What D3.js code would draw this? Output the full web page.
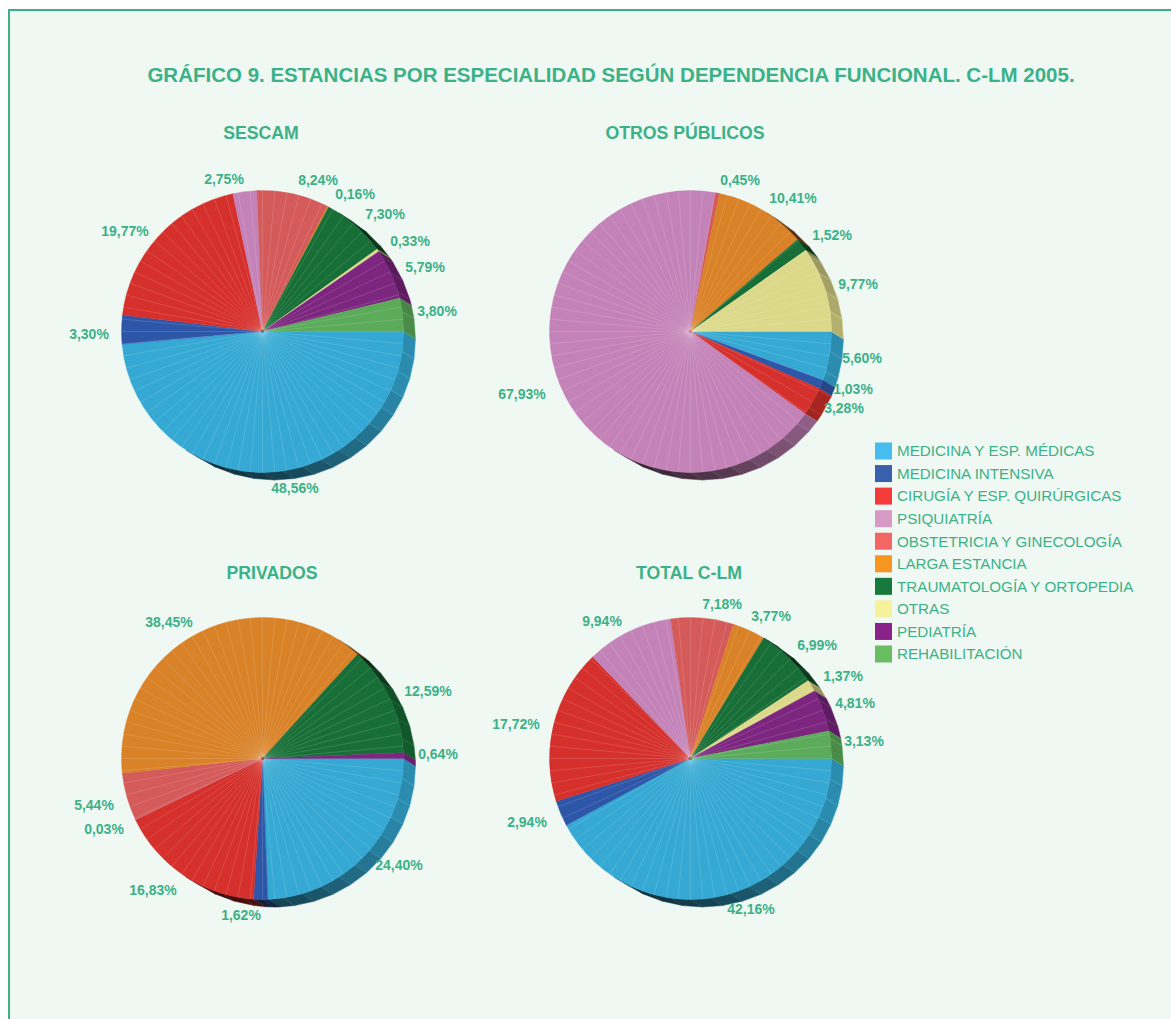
<!DOCTYPE html>
<html lang="es">
<head>
<meta charset="utf-8">
<title>Estancias por especialidad</title>
<script src="https://cdn.jsdelivr.net/npm/d3@7"></script>
<style>
  html, body { margin: 0; padding: 0; background: #fff; overflow: hidden; }
  svg { display: block; font-family: "Liberation Sans", Arial, sans-serif; }
</style>
</head>
<body>
<svg id="chart" width="1171" height="1019"></svg>
<script>
// Specialities, in drawing order
const specialities = [
  "MEDICINA Y ESP. MÉDICAS", "MEDICINA INTENSIVA", "CIRUGÍA Y ESP. QUIRÚRGICAS",
  "PSIQUIATRÍA", "OBSTETRICIA Y GINECOLOGÍA", "LARGA ESTANCIA",
  "TRAUMATOLOGÍA Y ORTOPEDIA", "OTRAS", "PEDIATRÍA", "REHABILITACIÓN"
];

// Share of stays per speciality (%), one list per functional dependency
const sescam       = [48.56, 3.30, 19.77, 2.75, 8.24, 0.16, 7.30, 0.33, 5.79, 3.80];
const otrosPublicos = [5.60, 1.03, 3.28, 67.93, 0.45, 10.41, 1.52, 9.77, 0, 0];
const privados     = [24.40, 1.62, 16.83, 0.03, 5.44, 38.45, 12.59, 0, 0.64, 0];
const totalClm     = [42.16, 2.94, 17.72, 9.94, 7.18, 3.77, 6.99, 1.37, 4.81, 3.13];

const legendColors = ["#45bdef", "#3a60ad", "#f43a3a", "#d69ac4", "#f46565", "#f6951f", "#167a3d", "#f6f29c", "#8a2388", "#6abd63"];
const sliceColors  = ["#35a9d3", "#2e56a8", "#d5302b", "#c483b8", "#d55a5a", "#d98227", "#176f37", "#dcd98a", "#7d2680", "#5bab5b"];

// Label placement relative to each pie centre, slice by slice
const sescamLabels = [[33,157],[-173,3],[-137,-100],[-38,-152],[56,-151],[93,-137],[123,-117],[148,-90],[163,-64],[175,-20]];
const otrosLabels  = [[172,27],[163,58],[154,77],[-168,63],[50,-151],[103,-133],[142,-96],[168,-47],null,null];
const privadosLabels = [[137,107],[-21,157],[-109,132],[-158,71],[-168,47],[-93,-136],[166,-67],null,[176,-4],null];
const totalLabels  = [[61,151],[-163,64],[-174,-34],[-88,-137],[32,-154],[81,-142],[127,-113],[153,-82],[165,-55],[174,-17]];

const panels = [
  { title: "SESCAM",         values: sescam,        labels: sescamLabels,   cx: 262, cy: 331, titleX: 261, titleY: 139 },
  { title: "OTROS PÚBLICOS", values: otrosPublicos, labels: otrosLabels,    cx: 690, cy: 331, titleX: 685, titleY: 139 },
  { title: "PRIVADOS",       values: privados,      labels: privadosLabels, cx: 262, cy: 758, titleX: 272, titleY: 579 },
  { title: "TOTAL C-LM",     values: totalClm,      labels: totalLabels,    cx: 690, cy: 758, titleX: 689, titleY: 579 }
];

const INK = "#3cb187";
const RADIUS = 141;
const DEPTH = { x: 12, y: 7.5 };
const TOP_STEP = 2 * Math.PI / 72;    // seam spacing on the top face
const RIM_STEP = 2 * Math.PI / 44;    // facet spacing on the extruded rim

const svg = d3.select("#chart");

// Panel frame: open towards the right and the bottom of the page
svg.append("rect").attr("x", 9).attr("y", 10).attr("width", 1200).attr("height", 1100)
  .attr("fill", "#eff8f3").attr("stroke", INK).attr("stroke-width", 2);

svg.append("text").attr("x", 611).attr("y", 82).attr("text-anchor", "middle")
  .attr("font-size", 20.5).attr("font-weight", "bold").attr("fill", INK)
  .text("GRÁFICO 9. ESTANCIAS POR ESPECIALIDAD SEGÚN DEPENDENCIA FUNCIONAL. C-LM 2005.");

const pie = d3.pie().sort(null).startAngle(Math.PI / 2).endAngle(Math.PI / 2 + 2 * Math.PI);
const arc = d3.arc().innerRadius(0).outerRadius(RADIUS);
const fmt = d3.formatLocale({ decimal: ",", thousands: ".", grouping: [3], currency: ["", ""] }).format(".2f");

// Rim brightness by compass angle of the outer normal (degrees, clockwise from north)
const rimShade = d3.scaleLinear()
  .domain([30, 50, 60, 90, 110, 130, 150, 170, 190, 215])
  .range([0.25, 0.42, 0.7, 0.83, 0.83, 0.72, 0.58, 0.42, 0.32, 0.2])
  .clamp(true);

function shade(color, k) {
  const c = d3.rgb(color);
  return d3.rgb(c.r * k, c.g * k, c.b * k).formatHex();
}

// Facet boundaries inside [start, end], aligned to a fixed angular grid
function breaks(start, end, step) {
  const inner = d3.range(Math.ceil(start / step + 1e-6) * step, end - 1e-6, step);
  return [start, ...inner, end];
}

const rimPath = d3.line();

panels.forEach(panel => {
  svg.append("text").attr("x", panel.titleX).attr("y", panel.titleY)
    .attr("text-anchor", "middle").attr("font-size", 17.7).attr("font-weight", "bold")
    .attr("fill", INK).text(panel.title);

  const g = svg.append("g").attr("transform", `translate(${panel.cx + 0.5},${panel.cy + 0.5})`);
  const slices = pie(panel.values).filter(s => s.data > 0);

  // Extruded rim, built as a band of quads behind the top face
  const rim = g.append("g");
  slices.forEach(s => {
    const edges = breaks(s.startAngle, s.endAngle, RIM_STEP);
    d3.pairs(edges).forEach(([a0, a1]) => {
      const mid = (a0 + a1) / 2;
      const nx = Math.sin(mid), ny = -Math.cos(mid);
      if (nx * DEPTH.x + ny * DEPTH.y <= 0) return;
      const p0 = d3.pointRadial(a0, RADIUS), p1 = d3.pointRadial(a1, RADIUS);
      const deg = ((mid * 180 / Math.PI) % 360 + 360) % 360;
      const fill = shade(sliceColors[s.index], rimShade(deg));
      rim.append("path")
        .attr("d", rimPath([p0, p1, [p1[0] + DEPTH.x, p1[1] + DEPTH.y], [p0[0] + DEPTH.x, p0[1] + DEPTH.y]]) + "Z")
        .attr("fill", fill).attr("stroke", d3.rgb(fill).brighter(0.5)).attr("stroke-width", 0.5);
    });
  });

  // Top face
  g.append("g").selectAll("path").data(slices).join("path")
    .attr("d", arc)
    .attr("fill", d => sliceColors[d.index])
    .attr("stroke", d => sliceColors[d.index]).attr("stroke-width", 0.4);

  // Light seams between the fine wedges of the top face
  const seams = g.append("g").attr("stroke", "#fff").attr("stroke-opacity", 0.2).attr("stroke-width", 0.7);
  slices.forEach(s => {
    breaks(s.startAngle, s.endAngle, TOP_STEP).slice(1, -1).forEach(a => {
      seams.append("path").attr("d", rimPath([d3.pointRadial(a, 2), d3.pointRadial(a, RADIUS)]));
    });
  });

  // Percentage labels
  slices.forEach(s => {
    const spot = panel.labels[s.index];
    g.append("text").attr("x", spot[0] - 0.5).attr("y", spot[1] - 0.5).attr("dy", "0.35em")
      .attr("text-anchor", "middle").attr("font-size", 14).attr("font-weight", "bold")
      .attr("fill", INK).text(fmt(s.data) + "%");
  });
});

// Legend
const legendY = d3.scalePoint().domain(specialities).range([451, 654]);
const legend = svg.append("g").selectAll("g").data(specialities).join("g")
  .attr("transform", d => `translate(875,${legendY(d)})`);
legend.append("rect").attr("x", 0).attr("y", -8.5).attr("width", 17).attr("height", 17)
  .attr("fill", (d, i) => legendColors[i]);
legend.append("text").attr("x", 22).attr("dy", "0.35em").attr("font-size", 15.2)
  .attr("fill", INK).text(d => d);
</script>
</body>
</html>
